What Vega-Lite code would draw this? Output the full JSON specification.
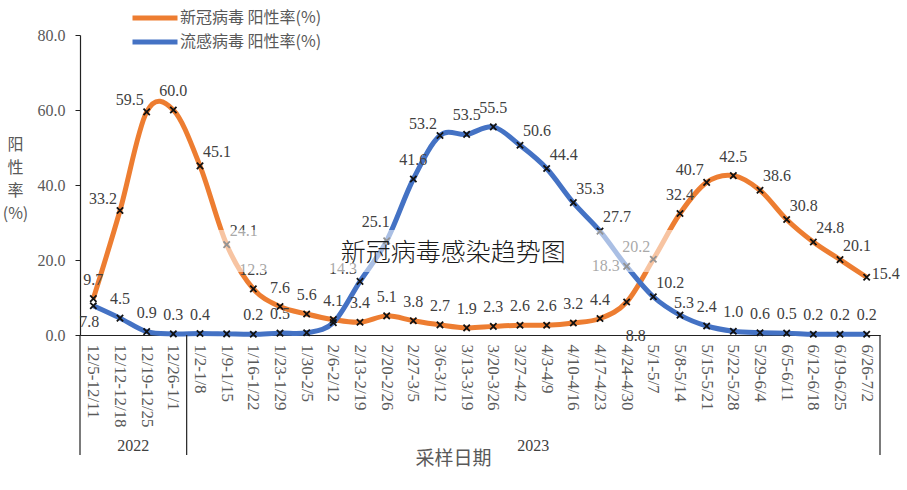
{
  "$schema": "https://vega.github.io/schema/vega-lite/v6.json",
  "autosize": {"type": "none"},
  "padding": {"left": 80, "top": 35, "right": 27, "bottom": 155},
  "width": 800,
  "height": 300,
  "background": "white",
  "config": {"view": {"stroke": null}},
  "datasets": {
    "rates": [
      {"week": "12/5-12/11", "series": "新冠病毒 阳性率(%)", "value": 9.7, "label": "9.7"},
      {"week": "12/12-12/18", "series": "新冠病毒 阳性率(%)", "value": 33.2, "label": "33.2"},
      {"week": "12/19-12/25", "series": "新冠病毒 阳性率(%)", "value": 59.5, "label": "59.5"},
      {"week": "12/26-1/1", "series": "新冠病毒 阳性率(%)", "value": 60.0, "label": "60.0"},
      {"week": "1/2-1/8", "series": "新冠病毒 阳性率(%)", "value": 45.1, "label": "45.1"},
      {"week": "1/9-1/15", "series": "新冠病毒 阳性率(%)", "value": 24.1, "label": "24.1"},
      {"week": "1/16-1/22", "series": "新冠病毒 阳性率(%)", "value": 12.3, "label": "12.3"},
      {"week": "1/23-1/29", "series": "新冠病毒 阳性率(%)", "value": 7.6, "label": "7.6"},
      {"week": "1/30-2/5", "series": "新冠病毒 阳性率(%)", "value": 5.6, "label": "5.6"},
      {"week": "2/6-2/12", "series": "新冠病毒 阳性率(%)", "value": 4.1, "label": "4.1"},
      {"week": "2/13-2/19", "series": "新冠病毒 阳性率(%)", "value": 3.4, "label": "3.4"},
      {"week": "2/20-2/26", "series": "新冠病毒 阳性率(%)", "value": 5.1, "label": "5.1"},
      {"week": "2/27-3/5", "series": "新冠病毒 阳性率(%)", "value": 3.8, "label": "3.8"},
      {"week": "3/6-3/12", "series": "新冠病毒 阳性率(%)", "value": 2.7, "label": "2.7"},
      {"week": "3/13-3/19", "series": "新冠病毒 阳性率(%)", "value": 1.9, "label": "1.9"},
      {"week": "3/20-3/26", "series": "新冠病毒 阳性率(%)", "value": 2.3, "label": "2.3"},
      {"week": "3/27-4/2", "series": "新冠病毒 阳性率(%)", "value": 2.6, "label": "2.6"},
      {"week": "4/3-4/9", "series": "新冠病毒 阳性率(%)", "value": 2.6, "label": "2.6"},
      {"week": "4/10-4/16", "series": "新冠病毒 阳性率(%)", "value": 3.2, "label": "3.2"},
      {"week": "4/17-4/23", "series": "新冠病毒 阳性率(%)", "value": 4.4, "label": "4.4"},
      {"week": "4/24-4/30", "series": "新冠病毒 阳性率(%)", "value": 8.8, "label": "8.8"},
      {"week": "5/1-5/7", "series": "新冠病毒 阳性率(%)", "value": 20.2, "label": "20.2"},
      {"week": "5/8-5/14", "series": "新冠病毒 阳性率(%)", "value": 32.4, "label": "32.4"},
      {"week": "5/15-5/21", "series": "新冠病毒 阳性率(%)", "value": 40.7, "label": "40.7"},
      {"week": "5/22-5/28", "series": "新冠病毒 阳性率(%)", "value": 42.5, "label": "42.5"},
      {"week": "5/29-6/4", "series": "新冠病毒 阳性率(%)", "value": 38.6, "label": "38.6"},
      {"week": "6/5-6/11", "series": "新冠病毒 阳性率(%)", "value": 30.8, "label": "30.8"},
      {"week": "6/12-6/18", "series": "新冠病毒 阳性率(%)", "value": 24.8, "label": "24.8"},
      {"week": "6/19-6/25", "series": "新冠病毒 阳性率(%)", "value": 20.1, "label": "20.1"},
      {"week": "6/26-7/2", "series": "新冠病毒 阳性率(%)", "value": 15.4, "label": "15.4"},
      {"week": "12/5-12/11", "series": "流感病毒 阳性率(%)", "value": 7.8, "label": "7.8"},
      {"week": "12/12-12/18", "series": "流感病毒 阳性率(%)", "value": 4.5, "label": "4.5"},
      {"week": "12/19-12/25", "series": "流感病毒 阳性率(%)", "value": 0.9, "label": "0.9"},
      {"week": "12/26-1/1", "series": "流感病毒 阳性率(%)", "value": 0.3, "label": "0.3"},
      {"week": "1/2-1/8", "series": "流感病毒 阳性率(%)", "value": 0.4, "label": "0.4"},
      {"week": "1/9-1/15", "series": "流感病毒 阳性率(%)", "value": 0.3, "label": ""},
      {"week": "1/16-1/22", "series": "流感病毒 阳性率(%)", "value": 0.2, "label": "0.2"},
      {"week": "1/23-1/29", "series": "流感病毒 阳性率(%)", "value": 0.5, "label": "0.5"},
      {"week": "1/30-2/5", "series": "流感病毒 阳性率(%)", "value": 0.6, "label": ""},
      {"week": "2/6-2/12", "series": "流感病毒 阳性率(%)", "value": 3.3, "label": ""},
      {"week": "2/13-2/19", "series": "流感病毒 阳性率(%)", "value": 14.3, "label": "14.3"},
      {"week": "2/20-2/26", "series": "流感病毒 阳性率(%)", "value": 25.1, "label": "25.1"},
      {"week": "2/27-3/5", "series": "流感病毒 阳性率(%)", "value": 41.6, "label": "41.6"},
      {"week": "3/6-3/12", "series": "流感病毒 阳性率(%)", "value": 53.2, "label": "53.2"},
      {"week": "3/13-3/19", "series": "流感病毒 阳性率(%)", "value": 53.5, "label": "53.5"},
      {"week": "3/20-3/26", "series": "流感病毒 阳性率(%)", "value": 55.5, "label": "55.5"},
      {"week": "3/27-4/2", "series": "流感病毒 阳性率(%)", "value": 50.6, "label": "50.6"},
      {"week": "4/3-4/9", "series": "流感病毒 阳性率(%)", "value": 44.4, "label": "44.4"},
      {"week": "4/10-4/16", "series": "流感病毒 阳性率(%)", "value": 35.3, "label": "35.3"},
      {"week": "4/17-4/23", "series": "流感病毒 阳性率(%)", "value": 27.7, "label": "27.7"},
      {"week": "4/24-4/30", "series": "流感病毒 阳性率(%)", "value": 18.3, "label": "18.3"},
      {"week": "5/1-5/7", "series": "流感病毒 阳性率(%)", "value": 10.2, "label": "10.2"},
      {"week": "5/8-5/14", "series": "流感病毒 阳性率(%)", "value": 5.3, "label": "5.3"},
      {"week": "5/15-5/21", "series": "流感病毒 阳性率(%)", "value": 2.4, "label": "2.4"},
      {"week": "5/22-5/28", "series": "流感病毒 阳性率(%)", "value": 1.0, "label": "1.0"},
      {"week": "5/29-6/4", "series": "流感病毒 阳性率(%)", "value": 0.6, "label": "0.6"},
      {"week": "6/5-6/11", "series": "流感病毒 阳性率(%)", "value": 0.5, "label": "0.5"},
      {"week": "6/12-6/18", "series": "流感病毒 阳性率(%)", "value": 0.2, "label": "0.2"},
      {"week": "6/19-6/25", "series": "流感病毒 阳性率(%)", "value": 0.2, "label": "0.2"},
      {"week": "6/26-7/2", "series": "流感病毒 阳性率(%)", "value": 0.2, "label": "0.2"}
    ]
  },
  "layer": [
    {
      "data": {"name": "rates"},
      "encoding": {
        "x": {
          "field": "week",
          "type": "nominal",
          "sort": null,
          "scale": {
            "type": "band",
            "paddingInner": 0,
            "paddingOuter": 0,
            "domain": ["12/5-12/11","12/12-12/18","12/19-12/25","12/26-1/1","1/2-1/8","1/9-1/15","1/16-1/22","1/23-1/29","1/30-2/5","2/6-2/12","2/13-2/19","2/20-2/26","2/27-3/5","3/6-3/12","3/13-3/19","3/20-3/26","3/27-4/2","4/3-4/9","4/10-4/16","4/17-4/23","4/24-4/30","5/1-5/7","5/8-5/14","5/15-5/21","5/22-5/28","5/29-6/4","6/5-6/11","6/12-6/18","6/19-6/25","6/26-7/2"]
          },
          "axis": {
            "title": "采样日期",
            "titleFont": "Noto Sans CJK SC",
            "titleFontSize": 19,
            "titleFontWeight": "normal",
            "titleColor": "#595959",
            "titleAlign": "center",
            "titleBaseline": "middle",
            "titleX": 373,
            "titleY": 123,
            "labelAngle": 90,
            "labelAlign": "left",
            "labelBaseline": "middle",
            "labelFont": "Liberation Serif",
            "labelFontSize": 17,
            "labelColor": "#595959",
            "labelPadding": 9,
            "ticks": false,
            "domainColor": "#222222",
            "domainWidth": 1.2,
            "grid": false
          }
        },
        "y": {
          "field": "value",
          "type": "quantitative",
          "scale": {"domain": [0, 80], "nice": false},
          "axis": {
            "values": [0, 20, 40, 60, 80],
            "format": ".1f",
            "labelFont": "Liberation Serif",
            "labelFontSize": 16,
            "labelColor": "#595959",
            "labelPadding": 10,
            "tickSize": 5,
            "tickColor": "#222222",
            "domainColor": "#222222",
            "domainWidth": 1.2,
            "grid": false,
            "title": ["阳", "性", "率", "(%)"],
            "titleAngle": 0,
            "titleFont": "Noto Sans CJK SC",
            "titleFontSize": 16,
            "titleFontWeight": "normal",
            "titleColor": "#595959",
            "titleLineHeight": 23,
            "titleAlign": "center",
            "titleBaseline": "top",
            "titleX": -65,
            "titleY": 101
          }
        }
      },
      "layer": [
        {
          "mark": {"type": "line", "interpolate": "cardinal", "strokeWidth": 5, "clip": false},
          "encoding": {
            "color": {
              "field": "series",
              "type": "nominal",
              "scale": {"domain": ["新冠病毒 阳性率(%)", "流感病毒 阳性率(%)"], "range": ["#ED7D31", "#4472C4"]},
              "legend": {
                "title": null,
                "orient": "none",
                "legendX": 65,
                "legendY": -27,
                "symbolType": "M-3,0H3",
                "symbolSize": 225,
                "symbolStrokeWidth": 5,
                "labelFont": "Noto Sans CJK SC",
                "labelFontSize": 16,
                "labelColor": "#595959",
                "labelOffset": 15,
                "rowPadding": 4
              }
            }
          }
        },
        {
          "mark": {"type": "point", "shape": "M-1,-1L1,1M-1,1L1,-1", "filled": false, "stroke": "#111111", "strokeWidth": 1.8, "size": 40, "opacity": 1, "clip": false}
        },
        {
          "transform": [{"filter": "!(datum.series === '新冠病毒 阳性率(%)' && indexof(['12/12-12/18','12/19-12/25','5/15-5/21','5/1-5/7','1/2-1/8','1/9-1/15','5/29-6/4','6/5-6/11','6/12-6/18','6/19-6/25','6/26-7/2','4/24-4/30'], datum.week) >= 0) && !(datum.series === '流感病毒 阳性率(%)' && indexof(['12/5-12/11','2/13-2/19','2/20-2/26','3/6-3/12','3/27-4/2','4/3-4/9','4/10-4/16','4/17-4/23','5/1-5/7','4/24-4/30','5/8-5/14'], datum.week) >= 0)"}],
          "mark": {"type": "text", "font": "Liberation Serif", "fontSize": 16, "color": "#404040", "align": "center", "baseline": "middle", "dy": -19, "clip": false},
          "encoding": {"text": {"field": "label"}}
        },
        {
          "transform": [{"filter": "(datum.series === '新冠病毒 阳性率(%)' && indexof(['12/12-12/18','12/19-12/25','5/15-5/21','5/1-5/7'], datum.week) >= 0) || (datum.series === '流感病毒 阳性率(%)' && indexof(['2/13-2/19','3/6-3/12'], datum.week) >= 0)"}],
          "mark": {"type": "text", "font": "Liberation Serif", "fontSize": 16, "color": "#404040", "align": "right", "baseline": "middle", "dx": -3, "dy": -12, "clip": false},
          "encoding": {"text": {"field": "label"}}
        },
        {
          "transform": [{"filter": "datum.series === '流感病毒 阳性率(%)' && datum.week === '2/20-2/26'"}],
          "mark": {"type": "text", "font": "Liberation Serif", "fontSize": 16, "color": "#404040", "align": "right", "baseline": "middle", "dx": 3, "dy": -19, "clip": false},
          "encoding": {"text": {"field": "label"}}
        },
        {
          "transform": [{"filter": "datum.series === '流感病毒 阳性率(%)' && datum.week === '5/8-5/14'"}],
          "mark": {"type": "text", "font": "Liberation Serif", "fontSize": 16, "color": "#404040", "align": "center", "baseline": "middle", "dx": 4, "dy": -12, "clip": false},
          "encoding": {"text": {"field": "label"}}
        },
        {
          "transform": [{"filter": "(datum.series === '新冠病毒 阳性率(%)' && indexof(['1/2-1/8','1/9-1/15','5/29-6/4','6/5-6/11','6/12-6/18','6/19-6/25'], datum.week) >= 0) || (datum.series === '流感病毒 阳性率(%)' && indexof(['3/27-4/2','4/3-4/9','4/10-4/16','4/17-4/23','5/1-5/7'], datum.week) >= 0)"}],
          "mark": {"type": "text", "font": "Liberation Serif", "fontSize": 16, "color": "#404040", "align": "left", "baseline": "middle", "dx": 3, "dy": -14, "clip": false},
          "encoding": {"text": {"field": "label"}}
        },
        {
          "transform": [{"filter": "datum.series === '新冠病毒 阳性率(%)' && datum.week === '6/26-7/2'"}],
          "mark": {"type": "text", "font": "Liberation Serif", "fontSize": 16, "color": "#404040", "align": "left", "baseline": "middle", "dx": 5, "dy": -3, "clip": false},
          "encoding": {"text": {"field": "label"}}
        },
        {
          "transform": [{"filter": "datum.series === '新冠病毒 阳性率(%)' && datum.week === '4/24-4/30'"}],
          "mark": {"type": "text", "font": "Liberation Serif", "fontSize": 16, "color": "#404040", "align": "left", "baseline": "middle", "dx": -1, "dy": 34, "clip": false},
          "encoding": {"text": {"field": "label"}}
        },
        {
          "transform": [{"filter": "datum.series === '流感病毒 阳性率(%)' && datum.week === '12/5-12/11'"}],
          "mark": {"type": "text", "font": "Liberation Serif", "fontSize": 16, "color": "#404040", "align": "center", "baseline": "middle", "dx": -4, "dy": 16, "clip": false},
          "encoding": {"text": {"field": "label"}}
        },
        {
          "transform": [{"filter": "datum.series === '流感病毒 阳性率(%)' && datum.week === '4/24-4/30'"}],
          "mark": {"type": "text", "font": "Liberation Serif", "fontSize": 16, "color": "#404040", "align": "right", "baseline": "middle", "dx": -7, "dy": 0, "clip": false},
          "encoding": {"text": {"field": "label"}}
        }
      ]
    },
    {
      "data": {"values": [{}]},
      "mark": {"type": "rect", "fill": "white", "opacity": 0.55},
      "encoding": {
        "x": {"datum": "1/9-1/15", "type": "nominal", "bandPosition": 0},
        "x2": {"datum": "5/15-5/21"},
        "y": {"datum": 16.8, "type": "quantitative"},
        "y2": {"datum": 28}
      }
    },
    {
      "data": {"values": [{}]},
      "mark": {"type": "text", "text": "新冠病毒感染趋势图", "font": "Noto Sans CJK SC", "fontSize": 25, "fontWeight": 300, "color": "#1a1a1a", "align": "center", "baseline": "middle"},
      "encoding": {
        "x": {"datum": "3/13-3/19", "type": "nominal", "bandPosition": 0},
        "y": {"datum": 22, "type": "quantitative"}
      }
    },
    {
      "data": {"values": [{"b": "12/5-12/11"}, {"b": "1/2-1/8"}]},
      "mark": {"type": "rule", "color": "#222222", "strokeWidth": 1.2, "clip": false},
      "encoding": {
        "x": {"field": "b", "type": "nominal", "bandPosition": 0},
        "y": {"datum": 0, "type": "quantitative"},
        "y2": {"datum": -32}
      }
    },
    {
      "data": {"values": [{}]},
      "mark": {"type": "rule", "color": "#222222", "strokeWidth": 1.2, "clip": false},
      "encoding": {
        "x": {"datum": "6/26-7/2", "type": "nominal", "bandPosition": 1},
        "y": {"datum": 0, "type": "quantitative"},
        "y2": {"datum": -32}
      }
    },
    {
      "data": {"values": [{"year": "2022", "at": "12/19-12/25"}, {"year": "2023", "at": "4/3-4/9"}]},
      "mark": {"type": "text", "font": "Liberation Serif", "fontSize": 16, "color": "#404040", "align": "center", "baseline": "middle", "clip": false},
      "encoding": {
        "x": {"field": "at", "type": "nominal", "bandPosition": 0},
        "y": {"datum": -29.5, "type": "quantitative"},
        "text": {"field": "year"}
      }
    }
  ]
}
